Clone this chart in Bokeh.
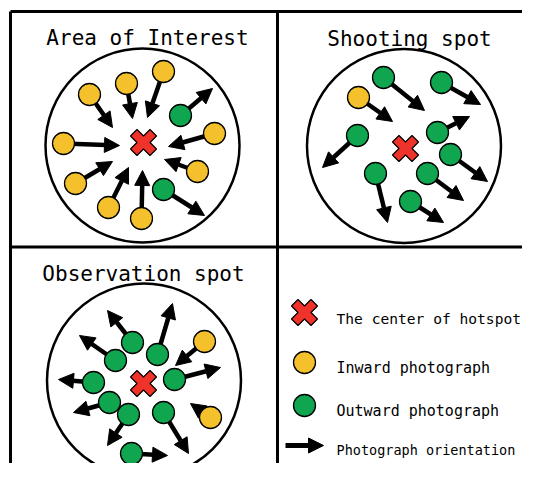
import numpy as np
from bokeh.plotting import figure
from bokeh.models import ColumnDataSource, Arrow, NormalHead, Range1d
from bokeh.core.properties import value
from bokeh.embed import file_html
from bokeh.resources import INLINE

# ---------------- data ----------------
titles = ["Area of Interest", "Shooting spot", "Observation spot"]
title_x = [147, 409, 143]
title_y = [37, 38, 273]

hotspot_x = [143, 405, 143]
hotspot_y = [142, 148, 383]
ring_x = [142, 403.5, 143.5]
ring_y = [145, 145.5, 380]
ring_r = [97, 97, 97]

# Area of Interest
aoi_kind = ["in", "in", "in", "out", "in", "in", "in", "in", "out", "in", "in"]
aoi_x = [89, 126, 163, 180, 214, 63, 197, 75, 163, 108, 141]
aoi_y = [94, 83, 71, 115, 133, 143, 171, 183, 189, 207, 218]
aoi_tip_x = [112, 132, 147, 212, 168, 119, 164, 112, 204, 128, 142]
aoi_tip_y = [127, 118, 117, 88, 146, 145, 159, 161, 215, 167, 170]

# Shooting spot
shoot_kind = ["out", "out", "in", "out", "out", "out", "out", "out", "out"]
shoot_x = [383, 441, 358, 357, 437, 450, 375, 427, 410]
shoot_y = [77, 82, 97, 135, 132, 154, 173, 173, 201]
shoot_tip_x = [424, 480, 392, 322, 469, 487, 387, 463, 443]
shoot_tip_y = [110, 104, 121, 167, 116, 181, 222, 200, 222]

# Observation spot
obs_kind = ["out", "out", "in", "out", "out", "out", "out", "out", "out", "in", "out"]
obs_x = [132, 157, 204, 115, 174, 93, 109, 128, 163, 210, 131]
obs_y = [342, 354, 341, 360, 379, 382, 402, 414, 412, 417, 453]
obs_tip_x = [107, 172, 175, 79, 220, 58, 73, 107, 188, 190, 167]
obs_tip_y = [310, 303, 365, 335, 367, 379, 412, 445, 453, 403, 455]

legend_labels = ["The center of hotspot", "Inward photograph",
                 "Outward photograph", "Photograph orientation"]
legend_text_y = [318, 367.5, 410.5, 449]
legend_text_size = ["14.6px", "15px", "15px", "13.5px"]

kind_color = {"in": "#F4C12D", "out": "#10A54F"}
RED = "#F0332A"

# ---------------- figure ----------------
p = figure(width=522, height=463, output_backend="svg", toolbar_location=None,
           x_range=Range1d(0, 522), y_range=Range1d(463, 0),
           x_axis_location=None, y_axis_location=None, min_border=0)
p.outline_line_color = None
p.xgrid.visible = False
p.ygrid.visible = False
p.background_fill_color = "white"
p.border_fill_color = "white"

FONT = value("DejaVu Sans Mono")

# frame lines
p.segment(x0=[10, 10, 277, 10], y0=[11, 11, 11, 246.5],
          x1=[538, 10, 277, 538], y1=[11, 479, 479, 246.5],
          line_color="black", line_width=3)

# rings
p.circle(x=ring_x, y=ring_y, radius=ring_r, fill_color=None,
         line_color="black", line_width=2.5)

# titles
p.text(x=title_x, y=title_y, text=titles, text_font=FONT, text_font_size="21px",
       text_align="center", text_baseline="alphabetic", text_color="black")


def add_arrows(xs, ys, txs, tys, head=15, lw=4.5):
    src = ColumnDataSource(dict(x0=xs, y0=ys, x1=txs, y1=tys))
    p.add_layout(Arrow(source=src, x_start="x0", y_start="y0", x_end="x1", y_end="y1",
                       line_color="black", line_width=lw, level="underlay",
                       end=NormalHead(size=head, fill_color="black", line_color="black",
                                      line_width=1)))


def add_dots(xs, ys, kinds):
    cols = [kind_color[k] for k in kinds]
    p.scatter(x=xs, y=ys, size=22, fill_color=cols, line_color="black", line_width=1.3)


for xs, ys, txs, tys, kinds in [(aoi_x, aoi_y, aoi_tip_x, aoi_tip_y, aoi_kind),
                                (shoot_x, shoot_y, shoot_tip_x, shoot_tip_y, shoot_kind),
                                (obs_x, obs_y, obs_tip_x, obs_tip_y, obs_kind)]:
    add_arrows(xs, ys, txs, tys)
    add_dots(xs, ys, kinds)

# legend
legend_x_mark = 304
legend_y_mark = [312, 362, 405, 445]
add_arrows([285], [legend_y_mark[3]], [323], [legend_y_mark[3]], head=15, lw=5)
add_dots([legend_x_mark, legend_x_mark], legend_y_mark[1:3], ["in", "out"])
for lab, ty, fs in zip(legend_labels, legend_text_y, legend_text_size):
    p.text(x=[336], y=[ty], text=[lab], text_font=FONT, text_font_size=fs,
           text_align="left", text_baseline="alphabetic", text_color="black")


# red X markers (thick cross rotated 45 deg)
def x_shape(cx, cy, w=4.6, L=13.8):
    pts = np.array([(w, L), (w, w), (L, w), (L, -w), (w, -w), (w, -L), (-w, -L),
                    (-w, -w), (-L, -w), (-L, w), (-w, w), (-w, L)])
    a = np.pi / 4
    rx = pts[:, 0] * np.cos(a) - pts[:, 1] * np.sin(a)
    ry = pts[:, 0] * np.sin(a) + pts[:, 1] * np.cos(a)
    return list(cx + rx), list(cy + ry)


xs_all, ys_all = [], []
for cx, cy in zip(hotspot_x + [legend_x_mark], hotspot_y + [legend_y_mark[0]]):
    a, b = x_shape(cx, cy)
    xs_all.append(a)
    ys_all.append(b)
p.patches(xs=xs_all, ys=ys_all, fill_color=RED, line_color="black", line_width=1.2)

open("out.html", "w").write(file_html(p, INLINE))
